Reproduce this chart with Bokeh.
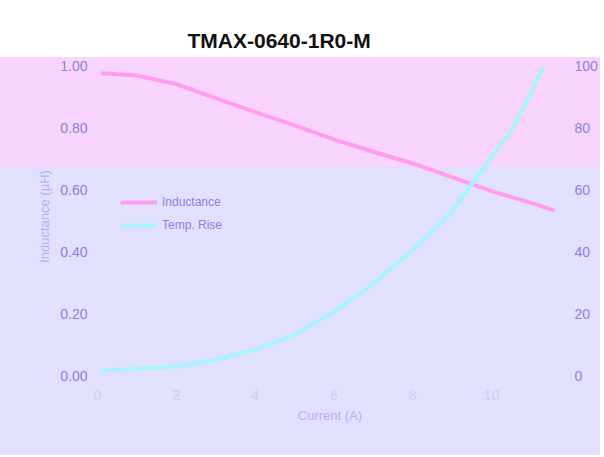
from bokeh.plotting import figure
from bokeh.models import LinearAxis, Range1d, Legend, LegendItem, FixedTicker, NumeralTickFormatter
from bokeh.embed import file_html
from bokeh.resources import INLINE

title_text = "TMAX-0640-1R0-M"
x_label = "Current (A)"
y_left_label = "Inductance (µH)"

current_L = [0.1, 1, 2, 3, 4, 5, 6, 7, 8, 9, 10, 11, 11.6]
inductance = [0.975, 0.968, 0.94, 0.895, 0.85, 0.807, 0.762, 0.722, 0.684, 0.64, 0.595, 0.557, 0.532]
current_T = [0.1, 1, 2, 3, 4, 5, 6, 7, 8, 9, 10, 10.5, 11, 11.3]
temp_rise = [1.5, 2.2, 2.9, 5.0, 8.3, 13.2, 20.5, 29.5, 40.5, 53, 70.5, 79, 91, 99.5]

x_ticks = [0, 2, 4, 6, 8, 10]
left_ticks = [0.0, 0.2, 0.4, 0.6, 0.8, 1.0]
right_ticks = [0, 20, 40, 60, 80, 100]

PINK = "#ff9cf1"
CYAN = "#a8f4fe"
TICK = "#8585e0"

p = figure(width=600, height=455, output_backend="svg", toolbar_location=None,
           x_range=Range1d(-0.05, 11.85), y_range=Range1d(0, 1.026),
           min_border_left=95, min_border_right=33, min_border_top=57, min_border_bottom=80)
p.extra_y_ranges = {"t": Range1d(0, 102.6)}

p.border_fill_color = None
p.background_fill_color = None
p.outline_line_color = None
p.styles = {"background": "linear-gradient(to bottom, #ffffff 0px, #ffffff 57px, #f8d3fc 57px, "
                          "#f8d3fc 167px, #e1e0fe 167px, #e1e0fe 100%)"}

p.title.text = title_text
p.title.text_font = "Liberation Sans"
p.title.text_font_size = "21px"
p.title.text_font_style = "bold"
p.title.text_color = "#111111"
p.title.align = "left"
p.title.offset = 92
p.title.standoff = 11

l1 = p.line(current_L, inductance, line_color=PINK, line_width=4)
l2 = p.line(current_T, temp_rise, line_color=CYAN, line_width=4, y_range_name="t")

p.grid.visible = False

for ax in [p.xaxis[0], p.yaxis[0]]:
    ax.axis_line_color = None
    ax.major_tick_line_color = None
    ax.minor_tick_line_color = None
    ax.major_tick_out = 0
    ax.major_label_text_font = "Liberation Sans"
    ax.major_label_text_font_size = "14px"
    ax.major_label_text_color = TICK
    ax.axis_label_text_font = "Liberation Sans"
    ax.axis_label_text_font_style = "normal"
    ax.axis_label_text_font_size = "13px"
    ax.axis_label_text_color = "#b8b0ee"
    ax.major_label_standoff = 8

p.xaxis[0].ticker = FixedTicker(ticks=x_ticks)
p.xaxis[0].axis_label = x_label
p.xaxis[0].major_label_standoff = 14
p.xaxis[0].major_label_text_color = "#d4cdf8"
p.yaxis[0].ticker = FixedTicker(ticks=left_ticks)
p.yaxis[0].formatter = NumeralTickFormatter(format="0.00")
p.yaxis[0].axis_label = y_left_label

rax = LinearAxis(y_range_name="t", ticker=FixedTicker(ticks=right_ticks))
rax.axis_line_color = None
rax.major_tick_line_color = None
rax.minor_tick_line_color = None
rax.major_tick_out = 0
rax.major_label_text_font = "Liberation Sans"
rax.major_label_text_font_size = "14px"
rax.major_label_text_color = TICK
rax.major_label_standoff = 10
p.add_layout(rax, "right")

legend = Legend(items=[LegendItem(label="Inductance", renderers=[l1]),
                       LegendItem(label="Temp. Rise", renderers=[l2])],
                location=(25, 140), background_fill_alpha=0, border_line_color=None,
                glyph_width=37, label_text_font="Liberation Sans", label_text_font_size="12px",
                label_text_color="#8585e0")
p.add_layout(legend, "center")

open("out.html", "w").write(file_html(p, INLINE))
